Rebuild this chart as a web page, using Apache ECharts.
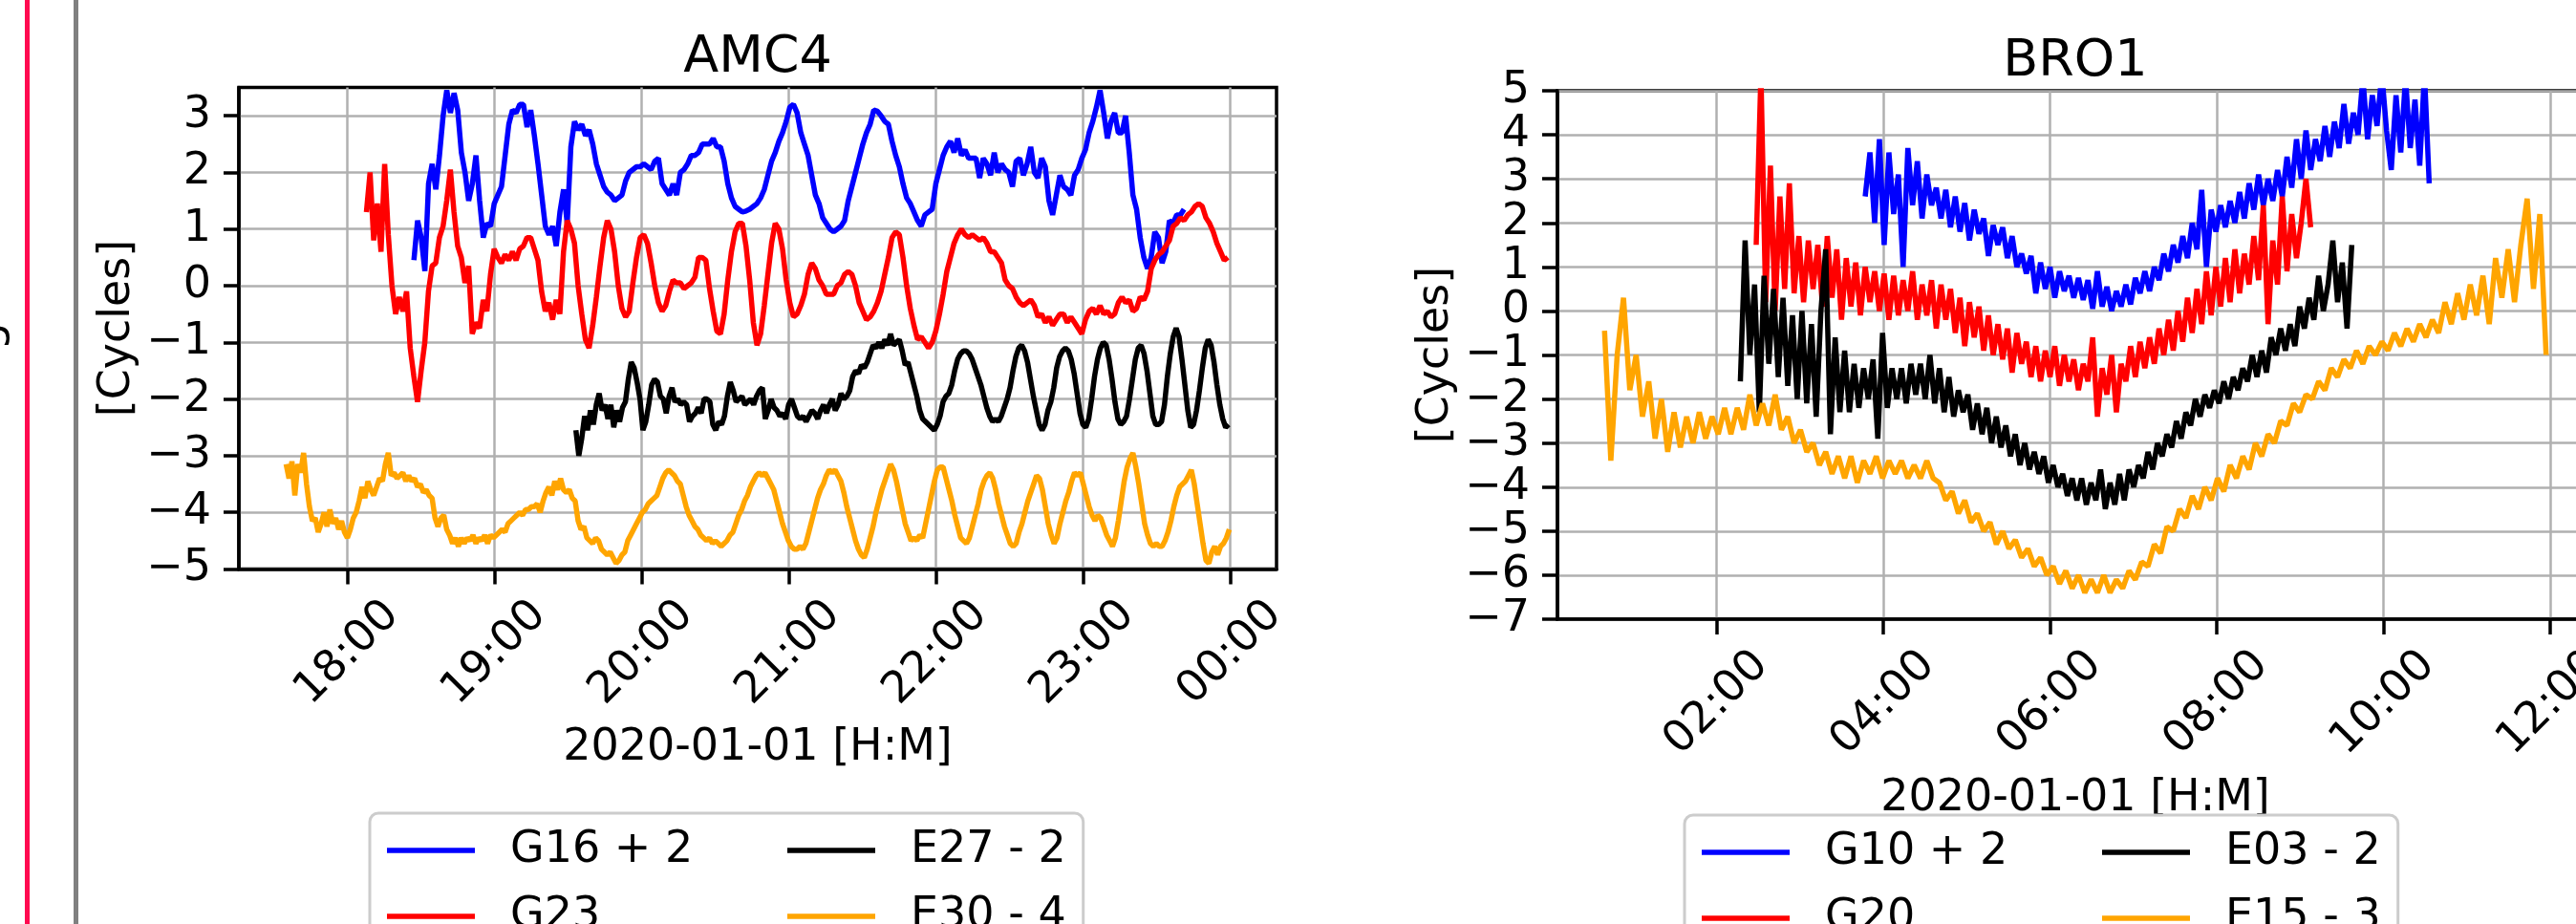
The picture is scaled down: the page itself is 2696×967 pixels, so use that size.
<!DOCTYPE html>
<html><head><meta charset="utf-8">
<script src="https://cdn.jsdelivr.net/npm/echarts@6/dist/echarts.min.js"></script>
<style>html,body{margin:0;padding:0;background:#fff;}#c{width:2696px;height:967px;}</style>
</head><body><div id="c"></div>
<script>
// ---------------- DATA ----------------
const amcTickHours = [18, 19, 20, 21, 22, 23, 24];
const amcTickCycles = [-5, -4, -3, -2, -1, 0, 1, 2, 3];
const broTickHours = [2, 4, 6, 8, 10, 12];
const broTickCycles = [-7, -6, -5, -4, -3, -2, -1, 0, 1, 2, 3, 4, 5];

const amcNames = ['G16 + 2', 'G23', 'E27 - 2', 'E30 - 4'];
const broNames = ['G10 + 2', 'G20', 'E03 - 2', 'E15 - 3'];
const lineColors = ['#0000ff', '#ff0000', '#000000', '#ffa500'];

// time span (hours of 2020-01-01) of each evenly sampled series
const amcG16Span = [18.452, 23.687];
const amcG23Span = [18.129, 23.985];
const amcE27Span = [19.553, 23.990];
const amcE30Span = [17.583, 23.995];
const broG10Span = [3.782, 10.550];
const broG20Span = [2.474, 9.128];
const broE03Span = [2.284, 9.621];
const broE15Span = [0.654, 11.953];

const amcG16Values = [0.45,1.15,0.85,0.26,1.8,2.15,1.7,2.3,3.0,3.45,
3.05,3.4,3.1,2.35,2.0,1.5,1.8,2.3,1.5,0.85,
1.1,1.05,1.45,1.6,1.75,2.3,2.85,3.1,3.05,3.2,
3.2,2.8,3.1,2.65,2.15,1.6,1.05,0.9,1.05,0.7,
1.3,1.7,1.1,2.45,2.9,2.75,2.85,2.65,2.75,2.5,
2.15,1.95,1.75,1.65,1.6,1.5,1.55,1.6,1.85,2.0,
2.05,2.1,2.1,2.15,2.1,2.05,2.2,2.25,1.8,1.7,
1.6,1.8,1.6,2.0,2.05,2.15,2.3,2.3,2.35,2.5,
2.5,2.5,2.6,2.45,2.45,2.2,1.8,1.55,1.4,1.35,
1.3,1.32,1.35,1.4,1.45,1.55,1.7,1.95,2.2,2.35,
2.55,2.7,2.9,3.15,3.2,3.05,2.7,2.5,2.3,1.95,
1.6,1.45,1.2,1.1,1.0,0.95,1.0,1.05,1.15,1.5,
1.75,2.0,2.25,2.5,2.7,2.85,3.1,3.08,3.0,2.9,
2.85,2.55,2.3,2.1,1.8,1.55,1.45,1.3,1.15,1.05,
1.25,1.3,1.35,1.8,2.05,2.3,2.45,2.55,2.35,2.6,
2.3,2.4,2.25,2.25,2.25,1.9,2.25,2.15,1.95,2.35,
2.0,2.15,2.05,2.0,1.75,2.2,2.25,1.95,2.15,2.45,
2.0,1.9,2.25,2.1,1.5,1.25,1.6,1.95,1.75,1.7,
1.6,1.95,2.05,2.25,2.4,2.7,2.9,3.15,3.45,3.05,
2.6,2.9,3.05,2.7,2.7,3.0,2.35,1.6,1.35,0.85,
0.5,0.3,0.5,0.95,0.85,0.4,0.6,1.15,1.1,1.25,
1.25,1.35];

const amcG23Values = [1.3,2.0,0.8,1.45,0.6,2.15,0.9,0.0,-0.5,-0.2,
-0.45,-0.1,-1.1,-1.6,-2.05,-1.5,-1.0,-0.1,0.35,0.4,
0.85,1.05,1.5,2.05,1.3,0.7,0.5,0.05,0.35,-0.85,
-0.65,-0.75,-0.25,-0.45,0.2,0.65,0.5,0.4,0.55,0.45,
0.6,0.45,0.65,0.7,0.85,0.85,0.65,0.45,-0.1,-0.45,
-0.3,-0.6,-0.25,-0.5,0.6,1.15,1.0,0.75,0.0,-0.5,
-0.95,-1.1,-0.7,-0.2,0.35,0.85,1.15,1.0,0.6,0.0,
-0.4,-0.55,-0.45,0.05,0.5,0.85,0.9,0.75,0.4,0.0,
-0.3,-0.45,-0.35,-0.1,0.1,0.05,0.05,-0.05,0.0,0.05,
0.15,0.5,0.5,0.45,-0.05,-0.45,-0.8,-0.85,-0.5,0.1,
0.6,0.95,1.1,1.1,0.7,0.1,-0.65,-1.05,-0.85,-0.35,
0.2,0.75,1.1,1.0,0.65,0.1,-0.3,-0.55,-0.5,-0.35,
-0.15,0.2,0.4,0.3,0.1,0.0,-0.15,-0.15,-0.15,0.0,
0.05,0.2,0.25,0.2,0.0,-0.3,-0.45,-0.6,-0.55,-0.45,
-0.3,-0.1,0.2,0.5,0.85,0.95,0.9,0.5,0.0,-0.4,
-0.7,-0.95,-0.9,-1.0,-1.1,-1.0,-0.8,-0.5,-0.15,0.25,
0.5,0.75,0.9,1.0,0.9,0.85,0.9,0.85,0.8,0.85,
0.75,0.6,0.6,0.5,0.4,0.1,0.0,-0.05,-0.2,-0.3,
-0.35,-0.3,-0.25,-0.35,-0.55,-0.5,-0.65,-0.55,-0.7,-0.6,
-0.5,-0.5,-0.65,-0.55,-0.65,-0.75,-0.85,-0.6,-0.45,-0.4,
-0.5,-0.35,-0.5,-0.45,-0.55,-0.5,-0.3,-0.2,-0.3,-0.25,
-0.45,-0.4,-0.2,-0.25,-0.1,0.3,0.45,0.55,0.6,0.7,
0.8,1.05,1.1,1.2,1.15,1.25,1.3,1.4,1.45,1.4,
1.2,1.1,0.95,0.75,0.6,0.45,0.5];

const amcE27Values = [-2.55,-3.0,-2.7,-2.3,-2.55,-2.2,-2.45,-2.1,-1.9,-2.2,
-2.1,-2.35,-2.1,-2.5,-2.2,-2.4,-2.15,-2.05,-1.65,-1.35,
-1.45,-1.7,-2.0,-2.55,-2.4,-2.1,-1.75,-1.65,-1.7,-1.95,
-2.0,-2.25,-1.95,-1.8,-2.05,-2.0,-2.1,-2.05,-2.1,-2.4,
-2.3,-2.25,-2.15,-2.25,-2.0,-2.0,-2.05,-2.45,-2.55,-2.4,
-2.45,-2.3,-1.95,-1.7,-1.85,-2.05,-2.0,-1.95,-2.1,-2.05,
-2.0,-2.1,-1.95,-1.85,-1.8,-2.35,-2.2,-2.0,-2.15,-2.2,
-2.3,-2.25,-2.35,-2.1,-2.0,-2.15,-2.3,-2.35,-2.3,-2.4,
-2.3,-2.2,-2.25,-2.35,-2.2,-2.1,-2.25,-2.1,-2.0,-2.2,
-2.1,-1.9,-2.0,-1.95,-1.85,-1.6,-1.5,-1.55,-1.4,-1.45,
-1.35,-1.2,-1.05,-1.1,-1.0,-1.1,-0.95,-1.05,-0.85,-1.05,
-1.0,-0.95,-1.15,-1.4,-1.35,-1.55,-1.75,-1.95,-2.2,-2.35,
-2.4,-2.45,-2.5,-2.55,-2.45,-2.3,-2.05,-1.95,-1.9,-1.75,
-1.5,-1.3,-1.2,-1.15,-1.15,-1.2,-1.3,-1.45,-1.6,-1.75,
-1.95,-2.15,-2.3,-2.4,-2.35,-2.4,-2.3,-2.15,-2.0,-1.8,
-1.5,-1.25,-1.1,-1.05,-1.15,-1.35,-1.65,-1.95,-2.2,-2.45,
-2.55,-2.45,-2.2,-2.05,-1.8,-1.45,-1.25,-1.15,-1.1,-1.15,
-1.3,-1.55,-1.9,-2.25,-2.45,-2.5,-2.35,-2.0,-1.6,-1.3,
-1.1,-1.0,-1.05,-1.3,-1.65,-2.05,-2.35,-2.45,-2.4,-2.3,
-2.0,-1.65,-1.3,-1.1,-1.05,-1.2,-1.5,-1.9,-2.3,-2.45,
-2.45,-2.4,-2.1,-1.6,-1.2,-0.9,-0.75,-0.9,-1.3,-1.75,
-2.2,-2.5,-2.45,-2.2,-1.85,-1.45,-1.1,-0.95,-1.05,-1.35,
-1.75,-2.1,-2.35,-2.5,-2.45];

const amcE30Values = [-3.15,-3.4,-3.1,-3.7,-3.15,-3.3,-2.95,-3.5,-3.9,-4.15,
-4.1,-4.35,-4.2,-4.0,-4.25,-3.95,-4.2,-4.1,-4.3,-4.15,
-4.35,-4.45,-4.3,-4.1,-4.0,-3.8,-3.55,-3.75,-3.45,-3.6,
-3.7,-3.55,-3.4,-3.45,-3.15,-2.95,-3.35,-3.3,-3.4,-3.35,
-3.3,-3.45,-3.35,-3.45,-3.4,-3.55,-3.5,-3.65,-3.6,-3.7,
-3.75,-4.1,-4.25,-4.1,-4.05,-4.3,-4.4,-4.55,-4.45,-4.6,
-4.45,-4.55,-4.45,-4.5,-4.4,-4.55,-4.45,-4.5,-4.4,-4.55,
-4.4,-4.45,-4.4,-4.35,-4.3,-4.35,-4.2,-4.15,-4.1,-4.05,
-4.0,-4.05,-3.95,-3.95,-3.9,-3.9,-3.85,-4.0,-3.8,-3.65,
-3.55,-3.7,-3.45,-3.6,-3.4,-3.6,-3.65,-3.6,-3.75,-3.8,
-4.15,-4.3,-4.25,-4.45,-4.5,-4.55,-4.45,-4.5,-4.65,-4.7,
-4.75,-4.7,-4.8,-4.9,-4.85,-4.75,-4.7,-4.5,-4.4,-4.3,
-4.2,-4.1,-4.0,-3.95,-3.85,-3.8,-3.75,-3.7,-3.55,-3.4,
-3.3,-3.25,-3.3,-3.35,-3.45,-3.5,-3.7,-3.9,-4.05,-4.15,
-4.25,-4.3,-4.4,-4.45,-4.5,-4.45,-4.55,-4.5,-4.55,-4.6,
-4.55,-4.5,-4.4,-4.35,-4.2,-4.05,-3.95,-3.8,-3.7,-3.55,
-3.45,-3.35,-3.3,-3.35,-3.3,-3.4,-3.5,-3.6,-3.8,-4.0,
-4.2,-4.35,-4.5,-4.6,-4.65,-4.65,-4.6,-4.65,-4.55,-4.35,
-4.15,-3.95,-3.75,-3.6,-3.5,-3.35,-3.25,-3.3,-3.25,-3.35,
-3.45,-3.65,-3.9,-4.1,-4.3,-4.5,-4.65,-4.75,-4.8,-4.65,
-4.45,-4.25,-4.0,-3.8,-3.6,-3.45,-3.3,-3.15,-3.25,-3.45,
-3.7,-3.95,-4.2,-4.35,-4.5,-4.45,-4.5,-4.4,-4.45,-4.2,
-3.95,-3.7,-3.45,-3.25,-3.2,-3.2,-3.4,-3.6,-3.8,-4.05,
-4.25,-4.45,-4.5,-4.55,-4.45,-4.25,-4.05,-3.85,-3.6,-3.45,
-3.35,-3.3,-3.4,-3.6,-3.85,-4.05,-4.25,-4.4,-4.55,-4.6,
-4.55,-4.35,-4.2,-4.0,-3.8,-3.65,-3.5,-3.35,-3.4,-3.6,
-3.9,-4.2,-4.4,-4.55,-4.45,-4.2,-4.0,-3.8,-3.65,-3.45,
-3.3,-3.35,-3.3,-3.5,-3.7,-3.9,-4.05,-4.15,-4.05,-4.1,
-4.25,-4.4,-4.5,-4.6,-4.45,-4.15,-3.8,-3.45,-3.2,-3.05,
-2.95,-3.2,-3.5,-3.85,-4.2,-4.4,-4.55,-4.6,-4.55,-4.6,
-4.6,-4.5,-4.35,-4.15,-3.9,-3.7,-3.55,-3.5,-3.45,-3.35,
-3.25,-3.5,-3.85,-4.2,-4.55,-4.85,-4.9,-4.7,-4.6,-4.75,
-4.6,-4.55,-4.45,-4.3];

const broG10Values = [2.6,3.6,2.0,3.9,1.5,3.6,2.2,3.1,1.0,3.7,
2.4,3.4,2.1,3.1,2.4,2.8,2.1,2.75,1.9,2.6,
1.8,2.45,1.6,2.3,1.75,2.1,1.25,1.95,1.5,1.9,
1.2,1.7,1.0,1.3,0.85,1.25,0.4,1.1,0.5,1.0,
0.3,0.9,0.45,0.8,0.3,0.75,0.25,0.7,0.05,0.9,
0.1,0.55,0.0,0.45,0.1,0.6,0.15,0.75,0.4,0.9,
0.45,1.0,0.7,1.3,0.9,1.5,1.1,1.7,1.2,2.0,
1.4,2.75,1.0,2.3,1.8,2.4,1.9,2.5,2.0,2.7,
2.1,2.9,2.3,3.1,2.4,3.0,2.5,3.2,2.6,3.5,
2.8,3.9,3.0,4.1,3.2,3.9,3.4,4.2,3.5,4.3,
3.7,4.7,3.8,4.5,4.0,5.3,3.9,4.9,4.2,5.4,
4.1,3.2,4.9,3.6,5.3,3.7,4.8,3.3,5.4,2.9];

const broG20Values = [1.5,5.4,0.2,3.3,0.0,2.6,0.5,2.9,0.4,1.7,
0.2,1.6,0.5,1.5,0.1,1.7,0.3,1.4,-0.2,1.2,
0.1,1.1,-0.1,1.0,0.2,0.9,0.0,0.85,-0.2,0.8,
-0.1,0.7,0.0,0.9,-0.2,0.6,-0.1,0.7,-0.4,0.6,
-0.2,0.5,-0.5,0.3,-0.8,0.2,-0.6,0.1,-0.9,-0.1,
-1.0,-0.3,-1.1,-0.4,-1.4,-0.5,-1.2,-0.7,-1.5,-0.8,
-1.6,-0.9,-1.5,-0.8,-1.7,-1.0,-1.6,-1.1,-1.8,-1.2,
-1.6,-0.6,-2.4,-1.3,-1.9,-1.0,-2.3,-1.2,-1.6,-0.8,
-1.5,-0.7,-1.3,-0.6,-1.2,-0.4,-1.0,-0.2,-0.9,0.0,
-0.7,0.3,-0.5,0.5,-0.3,0.9,-0.1,1.0,0.1,1.2,
0.2,1.4,0.4,1.3,0.6,1.7,0.7,2.4,-0.3,1.6,
0.6,2.6,0.9,2.2,1.2,2.0,3.0,1.9];

const broE03Values = [-1.6,1.6,-1.0,0.6,-2.3,0.8,-1.2,0.5,-1.5,0.3,
-1.7,-0.1,-2.0,0.0,-2.1,-0.3,-2.4,0.0,1.4,-2.8,
-0.6,-2.3,-0.9,-2.3,-1.2,-2.2,-1.3,-2.0,-1.1,-2.9,
-0.5,-2.2,-1.3,-2.0,-1.3,-2.1,-1.2,-1.9,-1.2,-2.0,
-1.0,-2.1,-1.3,-2.3,-1.5,-2.4,-1.8,-2.3,-1.9,-2.7,
-2.1,-2.8,-2.2,-3.0,-2.4,-3.1,-2.6,-3.3,-2.8,-3.5,
-3.0,-3.6,-3.2,-3.7,-3.3,-3.9,-3.5,-4.0,-3.7,-4.2,
-3.8,-4.3,-3.8,-4.4,-3.9,-4.3,-3.6,-4.5,-3.9,-4.4,
-3.7,-4.3,-3.6,-4.0,-3.5,-3.8,-3.2,-3.6,-3.0,-3.3,
-2.8,-3.1,-2.5,-2.9,-2.3,-2.6,-2.0,-2.4,-1.9,-2.2,
-1.8,-2.1,-1.6,-2.0,-1.5,-1.8,-1.3,-1.6,-1.0,-1.5,
-0.9,-1.4,-0.6,-1.0,-0.4,-0.9,-0.3,-0.8,0.1,-0.4,
0.3,-0.2,0.8,0.0,0.6,1.6,0.2,1.1,-0.4,1.5];

const broE15Values = [-0.45,-3.4,-1.0,0.3,-1.8,-1.0,-2.4,-1.6,-2.9,-2.0,
-3.2,-2.3,-3.1,-2.4,-3.0,-2.3,-2.9,-2.4,-2.8,-2.2,
-2.8,-2.2,-2.7,-1.9,-2.6,-2.1,-2.6,-1.9,-2.7,-2.4,
-3.0,-2.7,-3.2,-3.0,-3.5,-3.2,-3.7,-3.3,-3.8,-3.3,
-3.9,-3.4,-3.7,-3.3,-3.8,-3.4,-3.7,-3.4,-3.8,-3.5,
-3.8,-3.4,-3.8,-3.9,-4.3,-4.1,-4.6,-4.3,-4.8,-4.6,
-5.0,-4.8,-5.3,-5.0,-5.4,-5.2,-5.6,-5.4,-5.8,-5.6,
-6.0,-5.8,-6.2,-5.9,-6.3,-6.0,-6.4,-6.1,-6.4,-6.0,
-6.4,-6.1,-6.3,-5.9,-6.1,-5.7,-5.8,-5.3,-5.5,-4.9,
-5.0,-4.5,-4.7,-4.2,-4.5,-4.0,-4.3,-3.8,-4.1,-3.5,
-3.8,-3.3,-3.6,-3.0,-3.3,-2.8,-3.0,-2.5,-2.6,-2.1,
-2.3,-1.9,-2.0,-1.6,-1.8,-1.3,-1.5,-1.1,-1.3,-0.9,
-1.2,-0.8,-1.0,-0.7,-0.9,-0.5,-0.8,-0.4,-0.7,-0.3,
-0.6,-0.2,-0.5,0.2,-0.3,0.4,-0.2,0.6,-0.1,0.8,
-0.3,1.2,0.3,1.4,0.2,1.5,2.55,0.5,2.2,-1.0];

// ---------------- CHART ----------------
const FONT = 'DejaVu Sans';
function sampled(span, values) {
  const n = values.length, dt = (span[1] - span[0]) / (n - 1);
  return values.map((v, i) => [span[0] + i * dt, v]);
}
function fmtHour(v) { const h = Math.round(v) % 24; return (h < 10 ? '0' : '') + h + ':00'; }
function fmtNum(v) { return v < 0 ? '\u2212' + Math.abs(v) : String(v); }

const amcData = [sampled(amcG16Span, amcG16Values), sampled(amcG23Span, amcG23Values),
                 sampled(amcE27Span, amcE27Values), sampled(amcE30Span, amcE30Values)];
const broData = [sampled(broG10Span, broG10Values), sampled(broG20Span, broG20Values),
                 sampled(broE03Span, broE03Values), sampled(broE15Span, broE15Values)];

const axisLineStyle = { color: '#000', width: 3.5 };
const splitStyle = { color: '#b0b0b0', width: 2.5 };
const tickText = { fontSize: 46, color: '#000', fontFamily: FONT };

function xAxisCfg(grid, min, max, ticks, margin) {
  return {
    gridIndex: grid, type: 'value', min: min, max: max,
    axisLine: { show: true, onZero: false, lineStyle: axisLineStyle },
    axisTick: { show: true, length: 16, lineStyle: axisLineStyle, customValues: ticks },
    axisLabel: Object.assign({ customValues: ticks, formatter: fmtHour, rotate: 45, align: 'center',
      verticalAlign: 'middle', margin: margin }, tickText),
    splitLine: { show: true, lineStyle: splitStyle },
    name: '2020-01-01 [H:M]', nameLocation: 'middle', nameGap: 165, nameMoveOverlap: false,
    nameTextStyle: { fontSize: 46, color: '#000', fontFamily: FONT }
  };
}
function yAxisCfg(grid, min, max, ticks) {
  return {
    gridIndex: grid, type: 'value', min: min, max: max,
    axisLine: { show: true, onZero: false, lineStyle: axisLineStyle },
    axisTick: { show: true, length: 16, lineStyle: axisLineStyle, customValues: ticks },
    axisLabel: Object.assign({ customValues: ticks, formatter: fmtNum, margin: 29 }, tickText),
    splitLine: { show: true, lineStyle: splitStyle },
    name: '[Cycles]', nameLocation: 'middle', nameGap: 104, nameRotate: 90, nameMoveOverlap: false,
    nameTextStyle: { fontSize: 46, color: '#000', fontFamily: FONT }
  };
}
function seriesCfg(names, datas, axisIdx) {
  return names.map((nm, i) => ({
    name: nm, type: 'line', xAxisIndex: axisIdx, yAxisIndex: axisIdx, data: datas[i],
    showSymbol: false, symbol: 'none', clip: true, silent: true,
    lineStyle: { color: lineColors[i], width: 5.5 }, itemStyle: { color: lineColors[i] },
    emphasis: { disabled: true }, z: 2 + i
  }));
}
function legendCfg(names, left, top) {
  const col1 = [names[0], names[1]];
  return {
    data: [names[0], names[2], names[1], names[3]],
    left: left, top: top, orient: 'horizontal', width: 760,
    icon: 'rect', itemWidth: 92, itemHeight: 5.5, itemGap: 23,
    padding: [16, 18, 16, 18],
    backgroundColor: 'rgba(255,255,255,0.8)', borderColor: '#cccccc', borderWidth: 3, borderRadius: 9,
    formatter: function (n) { return '{s|}{' + (col1.indexOf(n) >= 0 ? 'a' : 'b') + '|' + n + '}'; },
    textStyle: { fontSize: 46, color: '#000', fontFamily: FONT,
      rich: { s: { width: 32, lineHeight: 46 }, a: { width: 267, lineHeight: 46, fontSize: 46, fontFamily: FONT },
              b: { lineHeight: 46, fontSize: 46, fontFamily: FONT } } },
    selectedMode: false
  };
}

const chart = echarts.init(document.getElementById('c'), null, { renderer: 'canvas' });
chart.setOption({
  animation: false,
  backgroundColor: '#ffffff',
  textStyle: { fontFamily: FONT },
  title: [
    { text: 'AMC4', left: 793, top: 34, textAlign: 'center', padding: 0,
      textStyle: { fontSize: 54, fontWeight: 'normal', color: '#000', fontFamily: FONT } },
    { text: 'BRO1', left: 2172, top: 38, textAlign: 'center', padding: 0,
      textStyle: { fontSize: 54, fontWeight: 'normal', color: '#000', fontFamily: FONT } }
  ],
  grid: [
    { left: 250, top: 91.5, width: 1086, height: 504, show: true, borderColor: '#000', borderWidth: 3.5,
      backgroundColor: 'transparent', containLabel: false, outerBoundsMode: 'none' },
    { left: 1630, top: 95, width: 1084, height: 553, show: true, borderColor: '#000', borderWidth: 3.5,
      backgroundColor: 'transparent', containLabel: false, outerBoundsMode: 'none' }
  ],
  xAxis: [xAxisCfg(0, 17.262, 24.316, amcTickHours, 88), xAxisCfg(1, 0.089, 12.518, broTickHours, 88)],
  yAxis: [yAxisCfg(0, -5, 3.5, amcTickCycles), yAxisCfg(1, -7, 5, broTickCycles)],
  legend: [legendCfg(amcNames, 387, 851), legendCfg(broNames, 1763, 853)],
  series: seriesCfg(amcNames, amcData, 0).concat(seriesCfg(broNames, broData, 1)),
  graphic: [
    { type: 'line', shape: { x1: 28.5, y1: 0, x2: 28.5, y2: 967 }, style: { stroke: '#ff0a50', lineWidth: 5 } },
    { type: 'line', shape: { x1: 79.5, y1: 0, x2: 79.5, y2: 967 }, style: { stroke: '#808080', lineWidth: 5 } },
    { type: 'text', x: -12, y: 352, rotation: Math.PI / 2,
      style: { text: 'g', fontSize: 46, fontFamily: FONT, fill: '#000', align: 'center', verticalAlign: 'middle' } }
  ]
});
</script>
</body></html>
